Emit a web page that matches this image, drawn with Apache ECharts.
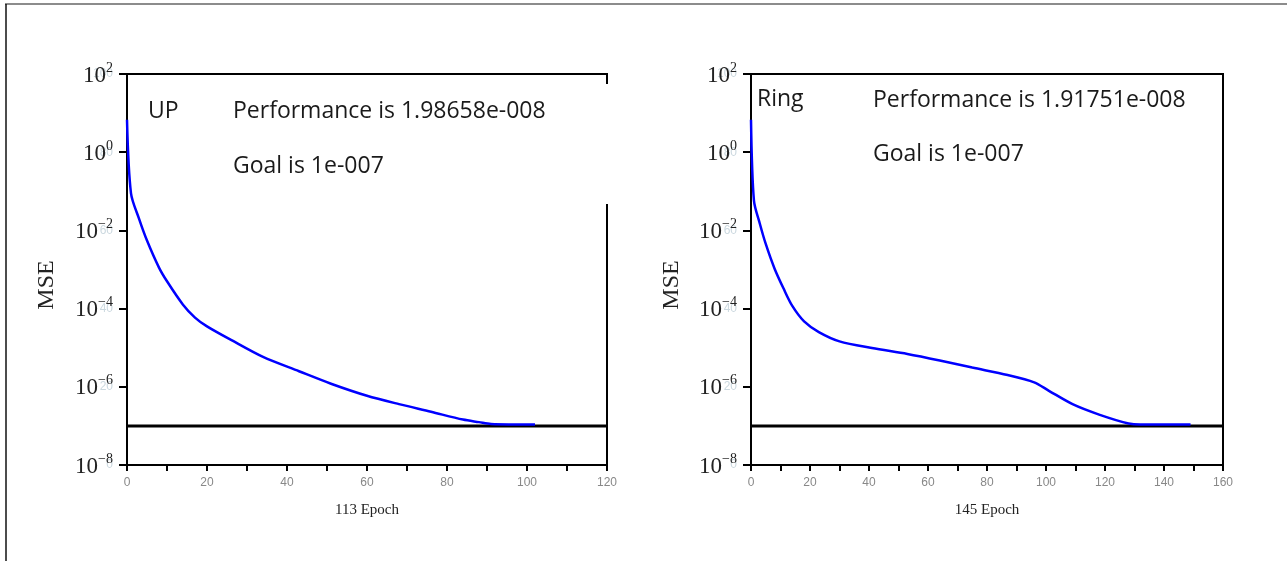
<!DOCTYPE html>
<html>
<head>
    <meta http-equiv=Content-Type content="text/html; charset=utf-8">
    <title>MSE</title>
    <script type="text/javascript" src="https://cdn.jsdelivr.net/npm/echarts@6/dist/echarts.min.js"></script>
    <style>
        html, body {margin: 0; padding: 0; background: #fff;}
        #chartmain {width: 1287px; height: 561px;}
    </style>
</head>
<body>
<div id="chartmain"></div>

<script type="text/javascript">
    // UP training curve
    var upEpoch = [0, 1, 3, 5, 8, 10, 14, 17, 20, 26, 34, 43, 51, 60, 68, 76, 84, 88, 91, 102];
    var upMse = [6.76, 0.089, 0.02, 0.0055, 0.00112, 5.0e-4, 1.26e-4, 5.9e-5, 3.5e-5, 1.58e-5,
        5.8e-6, 2.5e-6, 1.2e-6, 5.9e-7, 3.6e-7, 2.3e-7, 1.45e-7, 1.25e-7, 1.12e-7, 1.08e-7];

    // Ring training curve
    var ringEpoch = [0, 1, 3, 5, 8, 11, 14, 18, 23, 30, 41, 53, 64, 75, 87, 96, 101, 109, 118, 128, 132, 149];
    var ringMse = [6.76, 0.0575, 0.0148, 4.5e-3, 1.05e-3, 3.3e-4, 1.17e-4, 4.7e-5, 2.5e-5, 1.45e-5,
        9.8e-6, 6.9e-6, 4.7e-6, 3.1e-6, 2.0e-6, 1.3e-6, 7.9e-7, 3.6e-7, 1.95e-7, 1.15e-7, 1.08e-7, 1.08e-7];

    var goal = 1e-7;
    var upMaxEpoch = 120;
    var ringMaxEpoch = 160;
    var ghostTicks = [0, 20, 40, 60, 80, 100];   // faint leftover labels behind 10^n
    var upText = ['UP', 'Performance is 1.98658e-008', 'Goal is 1e-007'];
    var ringText = ['Ring', 'Performance is 1.91751e-008', 'Goal is 1e-007'];

    function pairs(xs, ys) {
        var out = [];
        for (var i = 0; i < xs.length; i++) {
            out.push([xs[i], ys[i]]);
        }
        return out;
    }

    function mseAxis(gi) {
        return {
            type: 'log', logBase: 100, min: 1e-8, max: 100, gridIndex: gi, position: 'left', z: 3,
            axisLine: {show: true, lineStyle: {color: '#000', width: 2}},
            axisTick: {show: true, inside: false, length: 8, lineStyle: {color: '#000', width: 2}},
            splitLine: {show: false},
            minorTick: {show: false},
            axisLabel: {
                margin: 14,
                formatter: function (v) {
                    var e = Math.round(Math.log(v) / Math.LN10);
                    return '{b|10}{e|' + (e < 0 ? '\u2212' + (-e) : e) + '}';
                },
                rich: {
                    b: {fontFamily: 'Liberation Serif', fontSize: 23, color: '#222', lineHeight: 26, verticalAlign: 'bottom'},
                    e: {fontFamily: 'Liberation Serif', fontSize: 14, color: '#222', lineHeight: 14, verticalAlign: 'top', padding: [0, 0, 10, 0]}
                }
            }
        };
    }

    function ghostAxis(gi) {
        return {
            type: 'value', min: 0, max: 100, interval: 20, gridIndex: gi, position: 'left', z: 1,
            axisLine: {show: false}, axisTick: {show: false}, splitLine: {show: false},
            axisLabel: {
                margin: 14, color: '#cbd8df', fontSize: 12, fontFamily: 'Liberation Sans',
                formatter: function (v) { return ghostTicks.indexOf(v) >= 0 ? String(v) : ''; }
            }
        };
    }

    function epochAxis(gi, max, name) {
        return {
            type: 'value', gridIndex: gi, min: 0, max: max, interval: 10,
            name: name, nameLocation: 'middle', nameGap: 38,
            nameTextStyle: {fontFamily: 'Liberation Serif', fontSize: 15, color: '#222'},
            axisLine: {show: true, lineStyle: {color: '#000', width: 2}},
            axisTick: {show: true, length: 6, lineStyle: {color: '#000', width: 2}},
            splitLine: {show: false},
            axisLabel: {
                margin: 12, color: '#888', fontSize: 12, fontFamily: 'Liberation Sans',
                formatter: function (v) { return v % 20 === 0 ? String(v) : ''; }
            }
        };
    }

    function curve(gi, data) {
        return {
            type: 'line', xAxisIndex: gi, yAxisIndex: gi * 2, data: data, z: 4,
            showSymbol: false, smooth: 0.3,
            lineStyle: {color: '#0000ff', width: 2.5}
        };
    }

    // black goal line across the whole plot
    function goalLine(gi, maxEpoch) {
        return {
            type: 'line', xAxisIndex: gi, yAxisIndex: gi * 2, z: 3,
            data: [[0, goal], [maxEpoch, goal]],
            showSymbol: false, silent: true,
            lineStyle: {color: '#000', width: 3}
        };
    }

    function txt(x, y, s) {
        return {
            type: 'text', x: x, y: y, z: 20,
            style: {text: s, fontFamily: 'Open Sans', fontSize: 23, fill: '#1a1a1a', align: 'left', verticalAlign: 'middle'}
        };
    }

    function mseTitle(x, y) {
        return {
            type: 'text', x: x, y: y, rotation: Math.PI / 2, z: 20,
            style: {text: 'MSE', fontFamily: 'Liberation Serif', fontSize: 24, fill: '#222', align: 'center', verticalAlign: 'middle'}
        };
    }

    var myChart = echarts.init(document.getElementById('chartmain'));
    var option = {
        animation: false,
        backgroundColor: '#fff',
        grid: [
            {left: 127, top: 74, width: 480, height: 391, show: true, borderColor: '#000', borderWidth: 2},
            {left: 751, top: 74, width: 472, height: 391, show: true, borderColor: '#000', borderWidth: 2}
        ],
        xAxis: [epochAxis(0, upMaxEpoch, '113 Epoch'), epochAxis(1, ringMaxEpoch, '145 Epoch')],
        yAxis: [mseAxis(0), ghostAxis(0), mseAxis(1), ghostAxis(1)],
        series: [
            goalLine(0, upMaxEpoch), curve(0, pairs(upEpoch, upMse)),
            goalLine(1, ringMaxEpoch), curve(1, pairs(ringEpoch, ringMse))
        ],
        graphic: [
            // page frame
            {type: 'line', z: 30, shape: {x1: 5, y1: 4, x2: 1287, y2: 4}, style: {stroke: '#8c8c8c', lineWidth: 2}},
            {type: 'line', z: 30, shape: {x1: 6, y1: 4, x2: 6, y2: 561}, style: {stroke: '#111', lineWidth: 1.5}},
            // white text box that hides part of the left frame
            {type: 'rect', z: 10, shape: {x: 140, y: 84, width: 472, height: 120}, style: {fill: '#fff'}},
            txt(148, 111, upText[0]), txt(233, 111, upText[1]), txt(233, 166, upText[2]),
            txt(757, 99, ringText[0]), txt(873, 100, ringText[1]), txt(873, 154, ringText[2]),
            mseTitle(47, 285), mseTitle(672, 285)
        ]
    };
    myChart.setOption(option);
</script>
</body>
</html>
